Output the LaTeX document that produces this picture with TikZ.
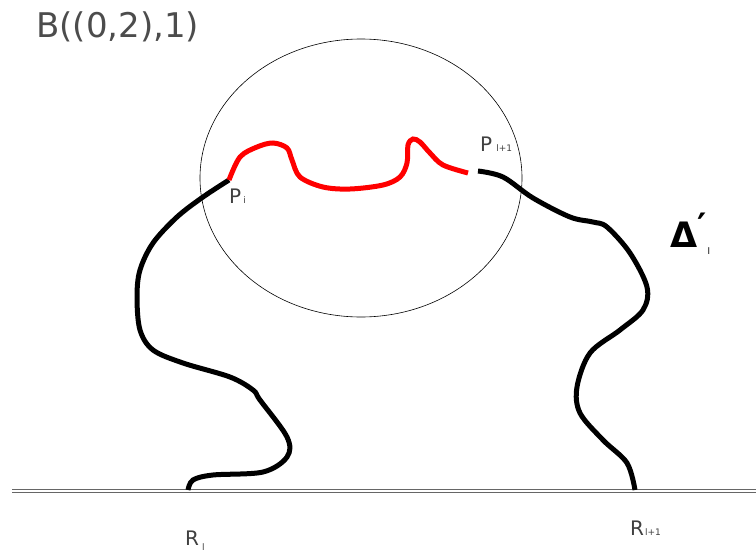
\documentclass[tikz,border=0pt]{standalone}
\usepackage{fontspec}
\setmainfont{DejaVu Sans}
\usetikzlibrary{positioning}

\newcommand\lsub[1]{{\fontsize{9}{9}\selectfont #1}}

\begin{document}
\begin{tikzpicture}[
  x=1pt, y=-1pt,
  strand/.style={line width=5pt, smooth, tension=0.55},
  arc/.style={strand, red},
  lbl/.style={text=black!75, inner sep=0pt, anchor=base west, font=\fontsize{20}{20}\selectfont},
  ground/.style={draw=black!60, line width=0.9pt, double=white, double distance=1.5pt}
]
\useasboundingbox (0,0) rectangle (756,552);

% ball and ground
\draw[line width=0.6pt] (361,178) ellipse [x radius=161, y radius=139];
\coordinate (g0) at (12,491);
\coordinate (g1) at (756,491);
\draw[ground] (g0) -- (g1);

% end points
\coordinate (Pi) at (229,180);
\coordinate (Pl1) at (478,171);
\coordinate (cut) at (468,173);
\coordinate (Rl) at (188,490);
\coordinate (Rl1) at (635,490);

% strands
\draw[strand] plot coordinates {(Pi) (203,197) (177,217) (153,243) (140,270) (137,297) (140,330) (153,350) (183,363) (230,377) (253,390) (260,400) (287,437) (287,457) (263,472) (213,475) (193,480) (Rl)};
\draw[strand] plot coordinates {(Pl1) (503,177) (533,198) (570,217) (593,222) (607,227) (630,253) (647,287) (643,310) (620,330) (590,353) (577,387) (580,413) (603,440) (627,463) (Rl1)};
\draw[arc] plot coordinates {(Pi) (240,157) (257,147) (273,143) (287,148) (292,160) (300,177) (323,187) (350,189) (383,185) (400,177) (407,163) (408,145) (413,139) (420,142) (430,153) (443,165) (cut)};

% labels
\node[lbl, font=\fontsize{34}{34}\selectfont, text=black!70] (ball) at (36,37) {B((0,2),1)};
\node[lbl] (pi) at (229,203) {P\hspace{2pt}\lsub{i}};
\node[lbl] (pl1) at (480,151) {P\hspace{4pt}\lsub{l+1}};
\node[lbl] (rl) at (185,545) {R\hspace{3pt}\raisebox{-5pt}{\lsub{l}}};
\node[lbl] (rl1) at (630,535) {R\hspace{1pt}\lsub{l+1}};
\node[lbl, text=black] (al) at (670,247) {{\fontsize{35}{35}\selectfont\bfseries Δ\raisebox{9pt}{′}}\hspace{1pt}\raisebox{-7pt}{\lsub{l}}};
\end{tikzpicture}
\end{document}
